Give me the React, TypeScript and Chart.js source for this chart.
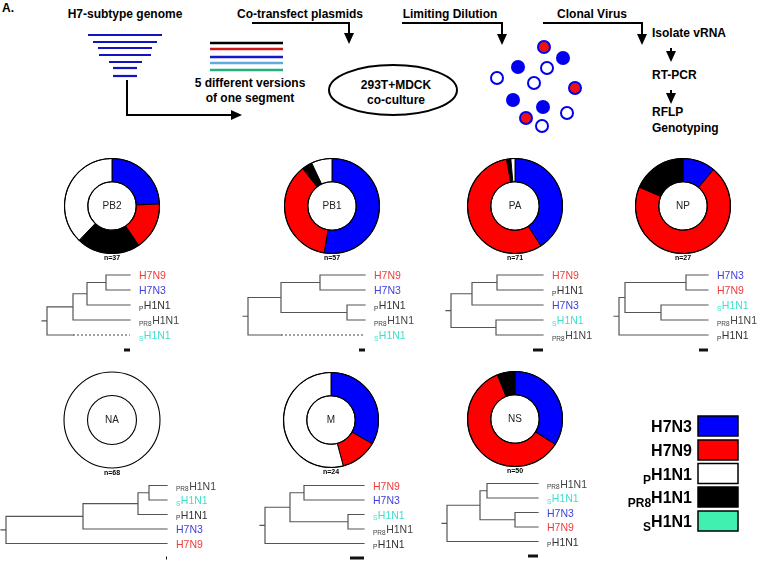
import React, { useEffect, useRef } from 'react';
import { Chart, registerables } from 'chart.js';

Chart.register(...registerables);
Chart.defaults.font.family = '"Liberation Sans", Arial, sans-serif';

// ---------- DATA ----------
const STRAINS = ['H7N3', 'H7N9', 'PR8H1N1', 'pH1N1', 'sH1N1'];
const STRAIN_COLORS = ['#0000ff', '#ff0000', '#000000', '#ffffff', '#40f0b0'];

const SEGMENTS = ['PB2', 'PB1', 'PA', 'NP', 'NA', 'M', 'NS'];
const PB2_COUNTS = [9, 6, 8, 14, 0];
const PB1_COUNTS = [30, 21, 2, 4, 0];
const PA_COUNTS = [29, 40, 1, 1, 0];
const NP_COUNTS = [3, 19, 5, 0, 0];
const NA_COUNTS = [0, 0, 0, 68, 0];
const M_COUNTS = [8, 3, 0, 13, 0];
const NS_COUNTS = [17, 30, 3, 0, 0];
const SEGMENT_COUNTS = [PB2_COUNTS, PB1_COUNTS, PA_COUNTS, NP_COUNTS, NA_COUNTS, M_COUNTS, NS_COUNTS];

// phylogenetic trees (Newick, branch lengths in arbitrary units)
const PB2_TREE = '((((H7N9:24,H7N3:24):19,pH1N1:43):14,PR8H1N1:57):26,sH1N1:83);';
const PB1_TREE = '(((H7N9:45,H7N3:45):39,(pH1N1:18,PR8H1N1:18):66):33,sH1N1:117);';
const PA_TREE = '(((H7N9:46,pH1N1:46):25,H7N3:71):21,(sH1N1:47,PR8H1N1:47):45);';
const NP_TREE = '(((H7N3:22,H7N9:22):61,(sH1N1:47,PR8H1N1:47):36):6,pH1N1:89);';
const NA_TREE = '((((PR8H1N1:18,sH1N1:18):11,pH1N1:29):55,H7N3:84):77,H7N9:161);';
const M_TREE = '(((H7N9:60,H7N3:60):14,(sH1N1:16,PR8H1N1:16):58):25,pH1N1:99);';
const NS_TREE = '(((PR8H1N1:51,sH1N1:51):7,(H7N3:23,H7N9:23):35):33,pH1N1:91);';
const TREES = [PB2_TREE, PB1_TREE, PA_TREE, NP_TREE, NA_TREE, M_TREE, NS_TREE];
const SCALE_BARS = [6, 6, 10, 9, 1, 14, 10];
const TRUNCATED_LEAVES = [['sH1N1'], ['sH1N1'], [], [], [], [], []];

// ---------- LAYOUT ----------
const DONUT_POS = [[112, 206], [332, 206], [515, 206], [683, 206], [112, 420], [331, 420], [515, 419]];
const TREE_POS = [[47, 275, 15], [248, 275, 15], [451, 275, 15], [619, 275, 15], [6, 485, 14.5], [265, 485, 14.5], [447, 483, 14.5]];

const FONT = '"Liberation Sans", Arial, sans-serif';

const LABEL_STYLE: Record<string, { sub: string; main: string; color: string }> = {
  H7N9: { sub: '', main: 'H7N9', color: '#f03c3c' },
  H7N3: { sub: '', main: 'H7N3', color: '#4040e0' },
  pH1N1: { sub: 'P', main: 'H1N1', color: '#333333' },
  PR8H1N1: { sub: 'PR8', main: 'H1N1', color: '#444444' },
  sH1N1: { sub: 'S', main: 'H1N1', color: '#3ee0cc' },
};

// ---------- TREE HELPERS ----------
interface TNode { name: string; len: number; children: TNode[]; x: number; y: number }

function parseNewick(str: string): TNode {
  let i = 0;
  const parseNode = (): TNode => {
    const node: TNode = { name: '', len: 0, children: [], x: 0, y: 0 };
    if (str[i] === '(') {
      i++;
      node.children.push(parseNode());
      while (str[i] === ',') { i++; node.children.push(parseNode()); }
      i++;
    }
    let name = '';
    while (i < str.length && !',():;'.includes(str[i])) name += str[i++];
    node.name = name;
    if (str[i] === ':') {
      i++;
      let num = '';
      while (i < str.length && !',();'.includes(str[i])) num += str[i++];
      node.len = parseFloat(num);
    }
    return node;
  };
  return parseNode();
}

const STUB = 5;

function layoutTree(newick: string, truncated: string[], bar: number) {
  const root = parseNewick(newick);
  root.len = 0;
  const leaves: TNode[] = [];
  const solid: any[] = [];
  const dash: any[] = [];
  let idx = 0;
  const walk = (n: TNode, x0: number) => {
    n.x = x0 + n.len;
    if (!n.children.length) { n.y = idx++; leaves.push(n); }
    else {
      n.children.forEach((c) => walk(c, n.x));
      n.y = (n.children[0].y + n.children[n.children.length - 1].y) / 2;
    }
  };
  walk(root, 0);
  const seg = (arr: any[], x1: number, y1: number, x2: number, y2: number) => {
    arr.push({ x: x1, y: y1 }, { x: x2, y: y2 }, { x: x2, y: null });
  };
  const emit = (n: TNode) => {
    if (!n.children.length) return;
    seg(solid, n.x, n.children[0].y, n.x, n.children[n.children.length - 1].y);
    n.children.forEach((c) => {
      if (truncated.includes(c.name)) {
        const sibX = Math.max(...n.children.filter((o) => o !== c).map((o) => o.x));
        seg(solid, n.x, c.y, sibX, c.y);
        seg(dash, sibX, c.y, c.x, c.y);
      } else seg(solid, n.x, c.y, c.x, c.y);
      emit(c);
    });
  };
  emit(root);
  seg(solid, -STUB, root.y, 0, root.y);
  const depth = Math.max(...leaves.map((l) => l.x));
  const barPts = [{ x: depth - bar, y: leaves.length }, { x: depth, y: leaves.length }];
  return { leaves, solid, dash, barPts, depth };
}

// ---------- COMPONENTS ----------
function Donut({ counts, label, cx, cy }: { counts: number[]; label: string; cx: number; cy: number }) {
  const ref = useRef<HTMLCanvasElement>(null);
  useEffect(() => {
    const total = counts.reduce((a, b) => a + b, 0);
    const chart = new Chart(ref.current!, {
      type: 'doughnut',
      data: {
        labels: STRAINS,
        datasets: [{
          data: counts,
          backgroundColor: STRAIN_COLORS,
          borderColor: '#000',
          borderWidth: counts.map((v) => (v > 0 && v < total ? 1 : 0)),
        }],
      },
      options: {
        responsive: false,
        animation: false,
        events: [],
        cutout: '51%',
        layout: { padding: { left: 2, right: 2, top: 2, bottom: 14 } },
        plugins: { legend: { display: false }, tooltip: { enabled: false } },
      },
      plugins: [{
        id: 'rings',
        afterDatasetsDraw(c: any) {
          const arc: any = c.getDatasetMeta(0).data[0];
          const ctx = c.ctx;
          ctx.save();
          ctx.strokeStyle = '#000';
          ctx.lineWidth = 1.1;
          ctx.beginPath(); ctx.arc(arc.x, arc.y, arc.outerRadius, 0, Math.PI * 2); ctx.stroke();
          ctx.beginPath(); ctx.arc(arc.x, arc.y, arc.innerRadius, 0, Math.PI * 2); ctx.stroke();
          ctx.fillStyle = '#222';
          ctx.textAlign = 'center';
          ctx.textBaseline = 'middle';
          ctx.font = `10px ${FONT}`;
          ctx.fillText(label, arc.x, arc.y + 0.5);
          ctx.font = `bold 7px ${FONT}`;
          ctx.fillStyle = '#000';
          ctx.fillText(`n=${total}`, arc.x, arc.y + arc.outerRadius + 5);
          ctx.restore();
        },
      }],
    } as any);
    return () => chart.destroy();
  }, []);
  return <canvas ref={ref} width={100} height={112} style={{ position: 'absolute', left: cx - 50, top: cy - 50 }} />;
}

function Tree({ newick, truncated, bar, rootX, leafY0, sp }: { newick: string; truncated: string[]; bar: number; rootX: number; leafY0: number; sp: number }) {
  const ref = useRef<HTMLCanvasElement>(null);
  const lay = layoutTree(newick, truncated, bar);
  const xmin = -STUB - 3;
  const W = Math.ceil(lay.depth) + STUB + 3 + 75;
  const H = Math.round(7 * sp);
  useEffect(() => {
    const chart = new Chart(ref.current!, {
      type: 'line',
      data: {
        datasets: [
          { data: lay.solid, borderColor: '#555', borderWidth: 1.2, pointRadius: 0, spanGaps: false, borderCapStyle: 'square', tension: 0 },
          { data: lay.dash, borderColor: '#555', borderWidth: 1.1, borderDash: [2, 2], pointRadius: 0, spanGaps: false, tension: 0 },
          { data: lay.barPts, borderColor: '#111', borderWidth: 3, pointRadius: 0, tension: 0 },
        ],
      },
      options: {
        responsive: false,
        animation: false,
        events: [],
        layout: { padding: 0 },
        scales: {
          x: { type: 'linear', min: xmin, max: xmin + W, display: false },
          y: { type: 'linear', min: -1, max: -1 + H / sp, reverse: true, display: false },
        },
        plugins: { legend: { display: false }, tooltip: { enabled: false } },
      },
      plugins: [{
        id: 'leafLabels',
        afterDatasetsDraw(c: any) {
          const ctx = c.ctx;
          const xs = c.scales.x;
          const ys = c.scales.y;
          ctx.save();
          ctx.textBaseline = 'alphabetic';
          ctx.textAlign = 'left';
          lay.leaves.forEach((leaf) => {
            const st = LABEL_STYLE[leaf.name];
            let x = xs.getPixelForValue(lay.depth) + 9;
            const base = ys.getPixelForValue(leaf.y) + 4;
            ctx.fillStyle = st.color;
            if (st.sub) {
              ctx.font = `6.5px ${FONT}`;
              ctx.fillText(st.sub, x, base + 1.5);
              x += ctx.measureText(st.sub).width + 0.5;
            }
            ctx.font = `10.5px ${FONT}`;
            ctx.fillText(st.main, x, base);
          });
          ctx.restore();
        },
      }],
    } as any);
    return () => chart.destroy();
  }, []);
  return <canvas ref={ref} width={W} height={H} style={{ position: 'absolute', left: rootX + xmin, top: leafY0 - sp }} />;
}

// ---------- SCHEMATIC (panel A) ----------
const GENOME_LINES = [[88, 162, 35], [93, 157, 42], [98, 152, 48], [99, 151, 55], [109, 142, 62], [113, 137, 68], [113, 137, 76]];
const VERSION_LINES: [number, string][] = [[43, '#000000'], [49, '#d01818'], [57, '#1818c8'], [63, '#64a8e0'], [70, '#22b07e']];
const CLONES: [number, number, string][] = [
  [544, 47, 'r'], [563, 58, 'b'], [518, 67, 'b'], [547, 68, 'o'], [497, 78, 'o'], [534, 83, 'o'],
  [575, 88, 'r'], [513, 100, 'b'], [543, 107, 'b'], [567, 113, 'o'], [526, 118, 'r'], [542, 126, 'o'],
];

function Schematic() {
  const t = { fontFamily: FONT, fontWeight: 700, fontSize: 12, fill: '#000' } as any;
  const head = (x: number, y: number, dir: 'down' | 'right') =>
    dir === 'down'
      ? <polygon points={`${x},${y} ${x - 5},${y - 11} ${x + 5},${y - 11}`} fill="#000" />
      : <polygon points={`${x},${y} ${x - 11},${y - 5} ${x - 11},${y + 5}`} fill="#000" />;
  return (
    <svg width={760} height={150} style={{ position: 'absolute', left: 0, top: 0 }}>
      <text x={2} y={12} {...t}>A.</text>
      <text x={125} y={18} textAnchor="middle" {...t}>H7-subtype genome</text>
      <text x={300} y={18} textAnchor="middle" {...t}>Co-transfect plasmids</text>
      <text x={450} y={18} textAnchor="middle" {...t}>Limiting Dilution</text>
      <text x={592} y={18} textAnchor="middle" {...t}>Clonal Virus</text>
      <text x={652} y={37} {...t}>Isolate vRNA</text>
      <text x={652} y={79} {...t}>RT-PCR</text>
      <text x={652} y={116} {...t}>RFLP</text>
      <text x={652} y={132} {...t}>Genotyping</text>
      <text x={250} y={87} textAnchor="middle" {...t}>5 different versions</text>
      <text x={250} y={102} textAnchor="middle" {...t}>of one segment</text>
      {GENOME_LINES.map(([x1, x2, y], i) => (
        <line key={i} x1={x1} x2={x2} y1={y} y2={y} stroke="#1212c0" strokeWidth={2.2} />
      ))}
      {VERSION_LINES.map(([y, c], i) => (
        <line key={i} x1={210} x2={283} y1={y} y2={y} stroke={c} strokeWidth={2.5} />
      ))}
      <polyline points="127,80 127,115 232,115" fill="none" stroke="#000" strokeWidth={2} />
      {head(242, 115, 'right')}
      <polyline points="252,23 349,23 349,34" fill="none" stroke="#000" strokeWidth={2} />
      {head(349, 44, 'down')}
      <polyline points="402,23 502,23 502,34" fill="none" stroke="#000" strokeWidth={2} />
      {head(502, 45, 'down')}
      <polyline points="543,23 642,23 642,34" fill="none" stroke="#000" strokeWidth={2} />
      {head(642, 45, 'down')}
      <line x1={671} x2={671} y1={48} y2={54} stroke="#000" strokeWidth={2} />
      {head(671, 62, 'down')}
      <line x1={671} x2={671} y1={90} y2={96} stroke="#000" strokeWidth={2} />
      {head(671, 104, 'down')}
      <ellipse cx={393} cy={90} rx={64} ry={25} fill="none" stroke="#000" strokeWidth={2} />
      <text x={396} y={89} textAnchor="middle" {...t}>293T+MDCK</text>
      <text x={396} y={104} textAnchor="middle" {...t}>co-culture</text>
      {CLONES.map(([x, y, k], i) =>
        k === 'b' ? <circle key={i} cx={x} cy={y} r={7} fill="#0000ee" />
          : k === 'r' ? <circle key={i} cx={x} cy={y} r={6} fill="#ee1111" stroke="#0000ee" strokeWidth={2} />
            : <circle key={i} cx={x} cy={y} r={6} fill="#fff" stroke="#0000ee" strokeWidth={2} />
      )}
      <text x={2} y={169} {...t} fontSize={12}>B.</text>
    </svg>
  );
}

// ---------- LEGEND ----------
const LEGEND_Y = [416, 440, 463.5, 487, 511];
const LEGEND_ORDER = [0, 1, 3, 2, 4];
const LEGEND_SUB: Record<string, [string, string]> = {
  H7N3: ['', 'H7N3'], H7N9: ['', 'H7N9'], pH1N1: ['P', 'H1N1'], PR8H1N1: ['PR8', 'H1N1'], sH1N1: ['S', 'H1N1'],
};

function Legend() {
  return (
    <svg width={760} height={561} style={{ position: 'absolute', left: 0, top: 0, pointerEvents: 'none' }}>
      {LEGEND_ORDER.map((si, i) => {
        const y = LEGEND_Y[i];
        const [sub, main] = LEGEND_SUB[STRAINS[si]];
        return (
          <g key={si}>
            <rect x={698} y={y} width={40} height={20} fill={STRAIN_COLORS[si]} stroke="#000" strokeWidth={1.5} />
            <text x={692} y={y + 16} textAnchor="end" fontFamily={FONT} fontWeight={700} fontSize={16} fill="#000">
              {sub ? <tspan fontSize={12} dy={4}>{sub}</tspan> : null}
              {sub ? <tspan dy={-4}>{main}</tspan> : <tspan>{main}</tspan>}
            </text>
          </g>
        );
      })}
    </svg>
  );
}

export default function App() {
  return (
    <div style={{ position: 'absolute', left: 0, top: 0, width: 760, height: 561, background: '#fff', overflow: 'hidden' }}>
      <Schematic />
      {SEGMENTS.map((s, i) => (
        <Donut key={s} counts={SEGMENT_COUNTS[i]} label={s} cx={DONUT_POS[i][0]} cy={DONUT_POS[i][1]} />
      ))}
      {TREES.map((nw, i) => (
        <Tree key={i} newick={nw} truncated={TRUNCATED_LEAVES[i]} bar={SCALE_BARS[i]}
          rootX={TREE_POS[i][0]} leafY0={TREE_POS[i][1]} sp={TREE_POS[i][2]} />
      ))}
      <Legend />
    </div>
  );
}
